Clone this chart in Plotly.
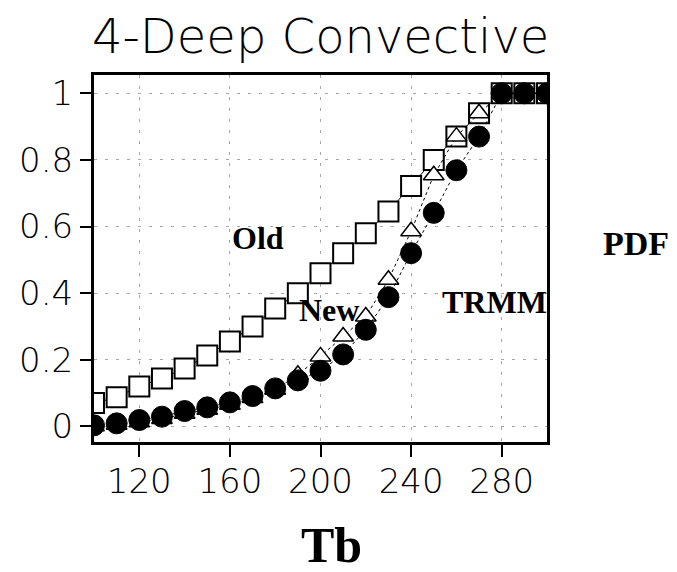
import plotly.graph_objects as go

tb = [100, 110, 120, 130, 140, 150, 160, 170, 180, 190, 200,
      210, 220, 230, 240, 250, 260, 270, 280, 290, 300]
old = [0.07, 0.087, 0.12, 0.144, 0.174, 0.213, 0.255, 0.30, 0.354, 0.40, 0.46,
       0.52, 0.58, 0.645, 0.722, 0.80, 0.87, 0.94, 1.0, 1.0, 1.0]
new = [0.0, 0.005, 0.012, 0.022, 0.038, 0.05, 0.065, 0.085, 0.11, 0.155, 0.21,
       0.27, 0.33, 0.44, 0.586, 0.754, 0.87, 0.94, 1.0, 1.0, 1.0]
trmm = [0.003, 0.009, 0.019, 0.029, 0.046, 0.057, 0.072, 0.091, 0.114, 0.138, 0.167,
        0.216, 0.29, 0.388, 0.52, 0.641, 0.769, 0.87, 1.0, 1.0, 1.0]

xticks = [120, 160, 200, 240, 280]
yticks = [0, 0.2, 0.4, 0.6, 0.8, 1]
yticklabels = ["0", "0.2", "0.4", "0.6", "0.8", "1"]

fig = go.Figure()
fig.add_trace(go.Scatter(
    x=tb, y=old, mode="lines+markers", name="Old",
    line=dict(color="black", width=1),
    marker=dict(symbol="square", size=20, color="white",
                line=dict(color="black", width=2))))
fig.add_trace(go.Scatter(
    x=tb, y=new, mode="lines+markers", name="New",
    line=dict(color="black", width=1, dash="3px,3px"),
    marker=dict(symbol="triangle-up", size=18, color="white",
                line=dict(color="black", width=1.5))))
fig.add_trace(go.Scatter(
    x=tb, y=trmm, mode="lines+markers", name="TRMM",
    line=dict(color="black", width=1, dash="3px,3px"),
    marker=dict(symbol="circle", size=21, color="black",
                line=dict(color="black", width=1))))

tickfont = dict(family="DejaVu Sans", size=34, color="black", weight=200)
lab = dict(family="Liberation Serif", size=32, color="black")

def note(x, y, text, font, ref):
    return dict(x=x, y=y, xref=ref[0], yref=ref[1], text=text, showarrow=False,
                xanchor="center", yanchor="middle", font=font)

fig.update_layout(
    width=677, height=572,
    margin=dict(l=94, r=130, t=75, b=130),
    paper_bgcolor="white", plot_bgcolor="white",
    showlegend=False,
    xaxis=dict(range=[100, 300], tickvals=xticks, ticktext=[str(v) for v in xticks],
               showline=True, mirror=True, linecolor="black", linewidth=3,
               ticks="outside", ticklen=12, tickwidth=2, tickcolor="black",
               ticklabelstandoff=-5,
               showgrid=True, gridcolor="#a8a8a8", gridwidth=1, griddash="3px,8px",
               zeroline=False, tickfont=tickfont),
    yaxis=dict(range=[-0.047, 1.055], tickvals=yticks, ticktext=yticklabels,
               showline=True, mirror=True, linecolor="black", linewidth=3,
               ticks="outside", ticklen=11, tickwidth=2, tickcolor="black",
               showgrid=True, gridcolor="#a8a8a8", gridwidth=1, griddash="3px,8px",
               zeroline=False, tickfont=tickfont),
    annotations=[
        note(172.3, 0.567, "<b>Old</b>", lab, ("x", "y")),
        note(203.9, 0.35, "<b>New</b>", lab, ("x", "y")),
        note(276.8, 0.374, "<b>TRMM</b>", lab, ("x", "y")),
        note(1.196, 0.542, "<b>PDF</b>",
             dict(family="Liberation Serif", size=34, color="black"), ("paper", "paper")),
        note(0.525, -0.282, "<b>Tb</b>",
             dict(family="Liberation Serif", size=50, color="black"), ("paper", "paper")),
        note(0.499, 1.106, "4-Deep Convective",
             dict(family="DejaVu Sans", size=48, color="black", weight=200), ("paper", "paper")),
    ],
)

fig.write_html("out.html")
